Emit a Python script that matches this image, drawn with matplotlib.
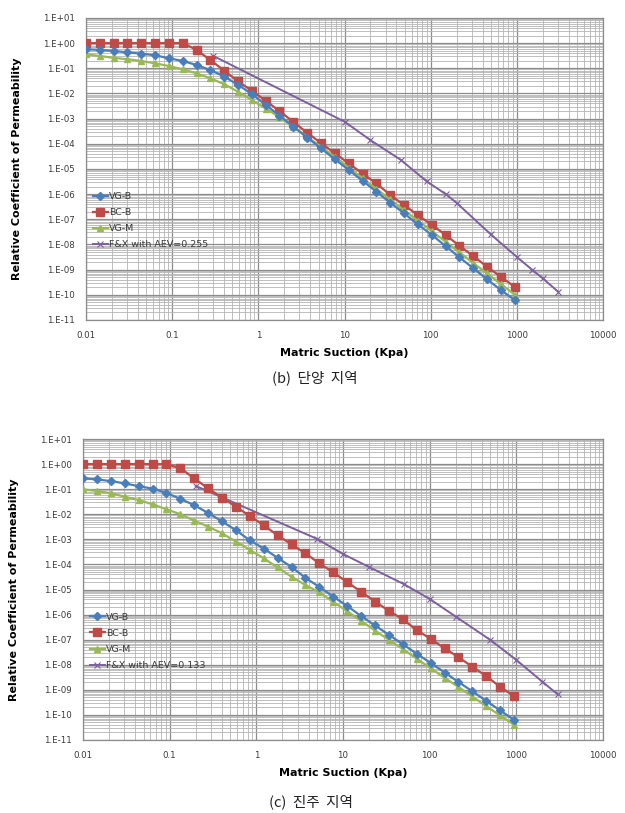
import matplotlib
matplotlib.use("Agg")
import matplotlib.pyplot as plt
import numpy as np
from matplotlib.ticker import FixedLocator, LogLocator, NullFormatter

# suction points shared by VG-B / BC-B / VG-M (kPa)
SUCTION = [0.01, 0.01447, 0.02094, 0.0303, 0.0438, 0.0634, 0.0918, 0.133,
           0.192, 0.278, 0.402, 0.582, 0.842, 1.22, 1.76, 2.55, 3.69, 5.34,
           7.72, 11.2, 16.2, 23.4, 33.9, 49.0, 70.9, 103, 149, 215, 311,
           450, 651, 942]

# (b) Danyang
DY_VGB = [0.57, 0.54, 0.49, 0.43, 0.38, 0.33, 0.25, 0.195, 0.135, 0.085,
          0.047, 0.022, 9.5e-3, 3.5e-3, 1.32e-3, 4.8e-4, 1.78e-4, 6.6e-5,
          2.45e-5, 9.1e-6, 3.4e-6, 1.26e-6, 4.6e-7, 1.74e-7, 6.3e-8, 2.4e-8,
          8.7e-9, 3.1e-9, 1.15e-9, 4.2e-10, 1.55e-10, 6.3e-11]
DY_BCB = [1, 1, 1, 1, 1, 1, 1, 1, 0.54, 0.21, 0.081, 0.030, 0.0129, 5.1e-3,
          2.0e-3, 7.4e-4, 2.75e-4, 1.07e-4, 4.2e-5, 1.66e-5, 6.6e-6, 2.7e-6,
          9.3e-7, 3.7e-7, 1.48e-7, 6.0e-8, 2.4e-8, 8.9e-9, 3.5e-9, 1.32e-9,
          5.2e-10, 2.1e-10]
DY_VGM = [0.36, 0.31, 0.26, 0.23, 0.195, 0.158, 0.123, 0.091, 0.063, 0.040,
          0.0234, 0.0117, 5.5e-3, 2.5e-3, 1.15e-3, 4.8e-4, 1.9e-4, 7.6e-5,
          3.0e-5, 1.12e-5, 4.3e-6, 1.62e-6, 6.2e-7, 2.3e-7, 8.9e-8, 3.4e-8,
          1.29e-8, 4.9e-9, 1.86e-9, 7.1e-10, 2.7e-10, 1.02e-10]
DY_FX_X = [0.3, 10, 20, 45, 90, 150, 200, 500, 1000, 1500, 2000, 3000]
DY_FX = [0.31, 7.6e-4, 1.4e-4, 2.3e-5, 3.2e-6, 1.0e-6, 4.5e-7, 2.5e-8,
         3.2e-9, 1.0e-9, 4.5e-10, 1.35e-10]

# (c) Jinju
JJ_VGB = [0.27, 0.245, 0.21, 0.17, 0.132, 0.105, 0.071, 0.041, 0.023, 0.0112,
          5.2e-3, 2.3e-3, 9.1e-4, 4.3e-4, 1.82e-4, 7.9e-5, 2.9e-5, 1.26e-5,
          5.2e-6, 2.2e-6, 8.7e-7, 3.7e-7, 1.55e-7, 6.6e-8, 2.75e-8, 1.17e-8,
          4.9e-9, 2.05e-9, 8.7e-10, 3.6e-10, 1.51e-10, 6.3e-11]
JJ_BCB = [1, 1, 1, 1, 1, 1, 1, 0.68, 0.27, 0.107, 0.046, 0.020, 8.5e-3,
          3.6e-3, 1.45e-3, 6.3e-4, 2.75e-4, 1.10e-4, 4.8e-5, 1.95e-5, 8.1e-6,
          3.3e-6, 1.41e-6, 6.5e-7, 2.4e-7, 1.07e-7, 4.5e-8, 2.0e-8, 8.3e-9,
          3.5e-9, 1.32e-9, 5.6e-10]
JJ_VGM = [0.098, 0.085, 0.069, 0.050, 0.037, 0.025, 0.0158, 0.0100, 5.6e-3,
          3.2e-3, 1.74e-3, 8.1e-4, 3.8e-4, 1.74e-4, 7.6e-5, 3.2e-5, 1.51e-5,
          7.6e-6, 3.2e-6, 1.35e-6, 5.6e-7, 2.3e-7, 9.8e-8, 4.2e-8, 1.74e-8,
          7.2e-9, 3.0e-9, 1.29e-9, 5.4e-10, 2.2e-10, 9.5e-11, 4.0e-11]
JJ_FX_X = [0.2, 5, 10, 20, 50, 100, 200, 500, 1000, 2000, 3000]
JJ_FX = [0.135, 1.05e-3, 2.6e-4, 7.9e-5, 1.66e-5, 4.2e-6, 8.3e-7, 9.8e-8,
         1.55e-8, 2.1e-9, 6.6e-10]

X_TICKS = [0.01, 0.1, 1, 10, 100, 1000, 10000]
X_TICKLABELS = ["0.01", "0.1", "1", "10", "100", "1000", "10000"]
Y_TICKS = [10.0 ** e for e in range(-11, 2)]
Y_TICKLABELS = ["1.E-11", "1.E-10", "1.E-09", "1.E-08", "1.E-07", "1.E-06",
                "1.E-05", "1.E-04", "1.E-03", "1.E-02", "1.E-01", "1.E+00",
                "1.E+01"]

BLUE = "#4A7EBB"
RED = "#BE4B48"
GREEN = "#98B954"
PURPLE = "#7D60A0"
KR = ["Noto Sans CJK KR", "DejaVu Sans"]


def draw_panel(ax, vgb, bcb, vgm, fx_x, fx, fx_label):
    ax.plot(SUCTION, vgb, color=BLUE, lw=1.6, marker="D", ms=3.6, label="VG-B", zorder=4)
    ax.plot(SUCTION, bcb, color=RED, lw=1.6, marker="s", ms=5.2, label="BC-B", zorder=3)
    ax.plot(SUCTION, vgm, color=GREEN, lw=1.6, marker="^", ms=4.6, label="VG-M", zorder=3)
    ax.plot(fx_x, fx, color=PURPLE, lw=1.4, marker="x", ms=4, mew=0.8,
            label=fx_label, zorder=2)

    ax.set_xscale("log")
    ax.set_yscale("log")
    ax.set_xlim(0.01, 10000)
    ax.set_ylim(1e-11, 10)

    ax.xaxis.set_major_locator(FixedLocator(X_TICKS))
    ax.set_xticklabels(X_TICKLABELS)
    ax.yaxis.set_major_locator(FixedLocator(Y_TICKS))
    ax.set_yticklabels(Y_TICKLABELS)
    ax.xaxis.set_minor_locator(LogLocator(base=10, subs=np.arange(2, 10), numticks=100))
    ax.yaxis.set_minor_locator(LogLocator(base=10, subs=np.arange(2, 10), numticks=100))
    ax.xaxis.set_minor_formatter(NullFormatter())
    ax.yaxis.set_minor_formatter(NullFormatter())

    ax.grid(True, which="major", color="#8C8C8C", lw=0.9)
    ax.grid(True, which="minor", color="#B4B4B4", lw=0.6)
    ax.set_axisbelow(True)
    ax.tick_params(which="both", length=0, labelsize=6.2, labelcolor="#3A3A3A")
    ax.tick_params(axis="y", pad=8)
    ax.tick_params(axis="x", pad=8)
    for s in ax.spines.values():
        s.set_color("#8C8C8C")
        s.set_linewidth(0.9)

    ax.set_xlabel("Matric Suction (Kpa)", fontsize=8, fontweight="bold", labelpad=6)
    ax.set_ylabel("Relative Coefficient of Permeability", fontsize=8,
                  fontweight="bold", labelpad=15)

    leg = ax.legend(loc="upper left", bbox_to_anchor=(0.0, 0.445), frameon=False,
                    fontsize=6.8, handlelength=1.6, handletextpad=0.1,
                    labelspacing=0.75, borderaxespad=0.3)
    for t in leg.get_texts():
        t.set_color("#3A3A3A")


def main():
    fig = plt.figure(figsize=(6.25, 8.13), dpi=100)
    ax_b = fig.add_axes([0.1376, 0.6064, 0.8272, 0.3715])
    ax_c = fig.add_axes([0.1328, 0.0898, 0.8320, 0.3702])

    draw_panel(ax_b, DY_VGB, DY_BCB, DY_VGM, DY_FX_X, DY_FX, "F&X with AEV=0.255")
    draw_panel(ax_c, JJ_VGB, JJ_BCB, JJ_VGM, JJ_FX_X, JJ_FX, "F&X with AEV=0.133")

    fig.text(0.503, 1 - 378 / 813, "(b)  단양  지역", ha="center", va="center",
             fontsize=10.5, family=KR, color="#222222")
    fig.text(0.497, 1 - 802 / 813, "(c)  진주  지역", ha="center", va="center",
             fontsize=10.5, family=KR, color="#222222")

    fig.savefig("out.png", dpi=100)


if __name__ == "__main__":
    main()
